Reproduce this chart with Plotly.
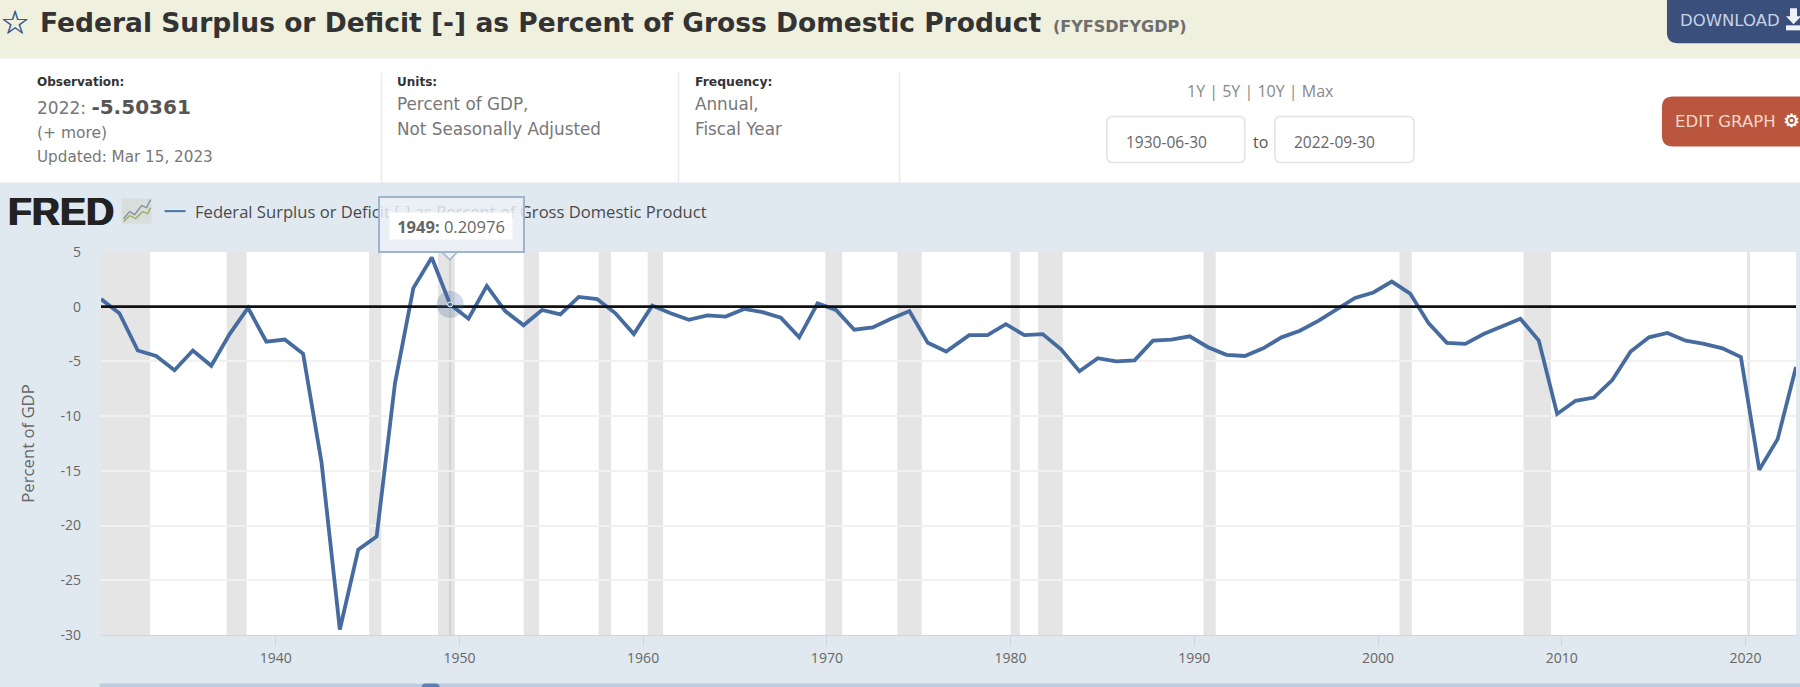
import plotly.graph_objects as go

# ----------------------------------------------------------------
# 1. Data
# ----------------------------------------------------------------
years = list(range(1930, 2023))
deficit_pct = [
    0.7, -0.6, -4.0, -4.5, -5.8, -4.0, -5.4, -2.5, -0.1, -3.2,
    -3.0, -4.3, -14.2, -29.5, -22.2, -21.0, -7.0, 1.7, 4.5, 0.20976,
    -1.1, 1.9, -0.4, -1.7, -0.3, -0.7, 0.9, 0.7, -0.6, -2.5,
    0.1, -0.6, -1.2, -0.8, -0.9, -0.2, -0.5, -1.0, -2.8, 0.3,
    -0.3, -2.1, -1.9, -1.1, -0.4, -3.3, -4.1, -2.6, -2.6, -1.6,
    -2.6, -2.5, -3.9, -5.9, -4.7, -5.0, -4.9, -3.1, -3.0, -2.7,
    -3.7, -4.4, -4.5, -3.8, -2.8, -2.2, -1.3, -0.3, 0.8, 1.3,
    2.3, 1.2, -1.5, -3.3, -3.4, -2.5, -1.8, -1.1, -3.1, -9.8,
    -8.6, -8.3, -6.7, -4.1, -2.8, -2.4, -3.1, -3.4, -3.8, -4.6,
    -14.9, -12.1, -5.50361,
]
# fiscal year ended in June up to 1976, in September after that
obs_dates = [f"{y}-06-30" if y <= 1976 else f"{y}-09-30" for y in years]

range_start = "1930-06-30"
range_end = "2022-09-30"
zero_x = [range_start, range_end]
zero_y = [0, 0]

hover_date = ["1949-06-30"]
hover_value = [0.20976]

recession_start = ["1930-06-30", "1937-05-01", "1945-02-01", "1948-11-01", "1953-07-01",
                   "1957-08-01", "1960-04-01", "1969-12-01", "1973-11-01", "1980-01-01",
                   "1981-07-01", "1990-07-01", "2001-03-01", "2007-12-01", "2020-02-01"]
recession_end = ["1933-03-01", "1938-06-01", "1945-10-01", "1949-10-01", "1954-05-01",
                 "1958-04-01", "1961-02-01", "1970-11-01", "1975-03-01", "1980-07-01",
                 "1982-11-01", "1991-03-01", "2001-11-01", "2009-06-01", "2020-04-01"]

tick_years = ["1940", "1950", "1960", "1970", "1980", "1990", "2000", "2010", "2020"]
y_ticks = [5, 0, -5, -10, -15, -20, -25, -30]
y_tick_labels = ["5", "0", "-5", "-10", "-15", "-20", "-25", "-30"]

# ----------------------------------------------------------------
# 2. Page geometry and helpers (everything outside the plot is in pixels)
# ----------------------------------------------------------------
W, H = 1800, 687
L, R, T, B = 101.4, 4, 252.3, 52.3


def px(x):
    return (x - L) / (W - L - R)


def py(y):
    return 1 - (y - T) / (H - T - B)


def rect(x0, y0, x1, y1, fill, line=None, width=1, layer="below"):
    return dict(type="rect", xref="paper", yref="paper", x0=px(x0), x1=px(x1), y0=py(y0), y1=py(y1),
                fillcolor=fill, line=dict(color=line, width=width if line else 0), layer=layer)


def rounded(x0, y0, x1, y1, r, fill, line=None, width=1):
    pts = (f"M {px(x0 + r)} {py(y0)} L {px(x1 - r)} {py(y0)} Q {px(x1)} {py(y0)} {px(x1)} {py(y0 + r)} "
           f"L {px(x1)} {py(y1 - r)} Q {px(x1)} {py(y1)} {px(x1 - r)} {py(y1)} "
           f"L {px(x0 + r)} {py(y1)} Q {px(x0)} {py(y1)} {px(x0)} {py(y1 - r)} "
           f"L {px(x0)} {py(y0 + r)} Q {px(x0)} {py(y0)} {px(x0 + r)} {py(y0)} Z")
    return dict(type="path", xref="paper", yref="paper", path=pts, fillcolor=fill,
                line=dict(color=line, width=width if line else 0), layer="below")


def poly(points, fill=None, line=None, width=1, layer="below", close=True):
    d = "M " + " L ".join(f"{px(a)} {py(b)}" for a, b in points) + (" Z" if close else "")
    return dict(type="path", xref="paper", yref="paper", path=d, fillcolor=fill,
                line=dict(color=line, width=width if line else 0), layer=layer)


def label(x, y, text, size=15, color="#777777", anchor="left", family="DejaVu Sans", shadow=None, **kw):
    font = dict(family=family, size=size, color=color)
    if shadow:
        font["shadow"] = shadow
    return dict(xref="paper", yref="paper", x=px(x), y=py(y), text=text, showarrow=False,
                xanchor=anchor, yanchor="middle", font=font, borderpad=0, **kw)


# ----------------------------------------------------------------
# 3. Page chrome
# ----------------------------------------------------------------
shapes = [
    rect(0, 0, W, 59, "#f0f0de"),
    rect(0, 59, W, 183, "#ffffff"),
    rect(381, 73, 382.5, 183, "#e6ebf1"),
    rect(678, 73, 679.5, 183, "#e6ebf1"),
    rect(899, 73, 900.5, 183, "#e6ebf1"),
    rounded(1667, -12, 1812, 44, 11, "#3a4f7b"),
    rounded(1662, 97, 1812, 147, 11, "#bb563e"),
    rounded(1107, 117, 1245, 163, 6, "#ffffff", "#dfe3e8", 1.5),
    rounded(1275, 117, 1414, 163, 6, "#ffffff", "#dfe3e8", 1.5),
    # download glyph
    poly([(1790, 9), (1797, 9), (1797, 17), (1801, 17), (1793.5, 25), (1786, 17), (1790, 17)], "#eef1f6"),
    rect(1786, 26, 1801, 31, "#eef1f6"),
    # FRED logo chart icon
    rect(122, 199, 152, 224, "#d8dedb"),
    poly([(124, 219), (130, 212), (135, 215), (142, 206), (147, 208), (151, 200)],
         None, "#8391a6", 1.5, close=False),
    poly([(124, 222), (130, 216), (136, 219), (143, 212), (148, 214), (151, 208)],
         None, "#9db06f", 1.5, close=False),
    # legend key
    rect(165, 210.5, 186, 212.5, "#4a72a8"),
    # range slider strip at the very bottom
    rect(100, 683, W, H, "#bccde2"),
    rounded(422, 683, 440, 695, 4, "#5d80b2"),
    # tooltip pointer
    poly([(442, 252), (450, 260), (458, 252)], "#eef3f7", "#9fb4cc", 1.5, layer="above"),
]

# recession bands and the hover crosshair go through the date axis
for start, end in zip(recession_start, recession_end):
    shapes.append(dict(type="rect", xref="x", yref="paper", x0=start, x1=end, y0=0, y1=1,
                       fillcolor="#e5e5e5", line=dict(width=0), layer="between"))
shapes.append(dict(type="line", xref="x", yref="paper", x0=hover_date[0], x1=hover_date[0], y0=0, y1=1,
                   line=dict(color="#d2d2d2", width=2), layer="between"))

annotations = [
    label(15, 23, "☆", size=33, color="#34558f", anchor="center", shadow="0.5px 0 0 #34558f"),
    label(39, 23, "<b>Federal Surplus or Deficit [-] as Percent of Gross Domestic Product</b>",
          size=26.5, color="#333333"),
    label(1052, 27, "<b>(FYFSDFYGDP)</b>", size=16, color="#6e6e6e"),
    label(1679, 21, "DOWNLOAD", size=16.5, color="#c8d2e3"),
    label(1674, 122, "EDIT GRAPH", size=16.5, color="#f3d6c9"),
    label(1782, 121, "⚙", size=18.5, color="#ffffff", shadow="0.5px 0 0 #ffffff"),
    label(36, 82.5, "<b>Observation:</b>", size=12, color="#333333"),
    label(36, 108, "2022: <b><span style='font-size:20px;color:#555555'>-5.50361</span></b>", size=17),
    label(36, 133.5, "(+ more)", size=15.5),
    label(36, 157.5, "Updated: Mar 15, 2023", size=15.2),
    label(396.5, 82.5, "<b>Units:</b>", size=12, color="#333333"),
    label(396.5, 105, "Percent of GDP,", size=16.8),
    label(396.5, 129.5, "Not Seasonally Adjusted", size=16.8),
    label(694, 82.5, "<b>Frequency:</b>", size=12.4, color="#333333"),
    label(694, 105, "Annual,", size=16.8),
    label(694, 129.5, "Fiscal Year", size=16.8),
    label(1260.5, 92, "1Y | 5Y | 10Y | Max", size=16, color="#888888", anchor="center", family="Open Sans"),
    label(1167, 142, "1930-06-30", size=15.5, color="#666666", anchor="center", family="Open Sans"),
    label(1260.5, 142, "to", size=16, color="#555555", anchor="center", family="Open Sans"),
    label(1335, 142, "2022-09-30", size=15.5, color="#666666", anchor="center", family="Open Sans"),
    label(7, 212, "<b>FRED</b>", size=39, color="#222222", family="Liberation Sans",
          shadow="0.7px 0 0 #222222, -0.7px 0 0 #222222"),
    label(194, 211.5, "Federal Surplus or Deficit [-] as Percent of Gross Domestic Product",
          size=16.6, color="#4a4a4a", family="Open Sans"),
    # tooltip body, later annotations sit on top of the legend text
    label(451.5, 224.5, " ", width=143, height=53, bgcolor="rgba(236,241,246,0.82)",
          bordercolor="#9fb4cc", borderwidth=2, anchor="center"),
    label(451, 226, "<b>1949:</b> 0.20976", size=16.5, color="#666666", anchor="center",
          width=122, height=26, bgcolor="#ffffff", family="Open Sans"),
]

# ----------------------------------------------------------------
# 4. Build the figure
# ----------------------------------------------------------------
line_trace = go.Scatter(x=obs_dates, y=deficit_pct, mode="lines", name="FYFSDFYGDP",
                        line=dict(color="#466b9f", width=3.8))
zero_trace = go.Scatter(x=zero_x, y=zero_y, mode="lines", line=dict(color="#111111", width=2.8),
                        hoverinfo="skip")
hover_halo = go.Scatter(x=hover_date, y=hover_value, mode="markers", hoverinfo="skip",
                        marker=dict(size=27, color="rgba(70,107,159,0.25)", line=dict(width=0)))
hover_dot = go.Scatter(x=hover_date, y=hover_value, mode="markers", hoverinfo="skip",
                       marker=dict(size=5, color="#466b9f", line=dict(color="#ffffff", width=1)))

fig = go.Figure(data=[line_trace, zero_trace, hover_halo, hover_dot])

fig.update_layout(
    width=W,
    height=H,
    margin=dict(l=L, r=R, t=T, b=B, pad=0),
    paper_bgcolor="#e1e9f0",
    plot_bgcolor="#ffffff",
    showlegend=False,
    shapes=shapes,
    annotations=annotations,
    font=dict(family="Open Sans", color="#666666"),
    xaxis=dict(
        type="date",
        range=[range_start, range_end],
        tickvals=[f"{y}-01-01" for y in tick_years],
        ticktext=tick_years,
        ticks="outside",
        ticklen=10,
        tickwidth=1,
        tickcolor="#ccd6e0",
        tickfont=dict(size=14, color="#666666"),
        showgrid=False,
        showline=True,
        linecolor="#ccd6e0",
        zeroline=False,
    ),
    yaxis=dict(
        range=[-30, 5],
        tickvals=y_ticks,
        ticktext=y_tick_labels,
        ticks="",
        ticklabelstandoff=19,
        tickfont=dict(size=14, color="#666666"),
        gridcolor="#f1f1f1",
        gridwidth=1.5,
        zeroline=False,
        showline=False,
        title=dict(text="Percent of GDP", font=dict(size=16.7, color="#666666"), standoff=21),
    ),
)

# the page's default body margin would push the figure 8 px down and right
fig.write_html("out.html", config=dict(displayModeBar=False),
               post_script="document.body.style.margin='0';")
